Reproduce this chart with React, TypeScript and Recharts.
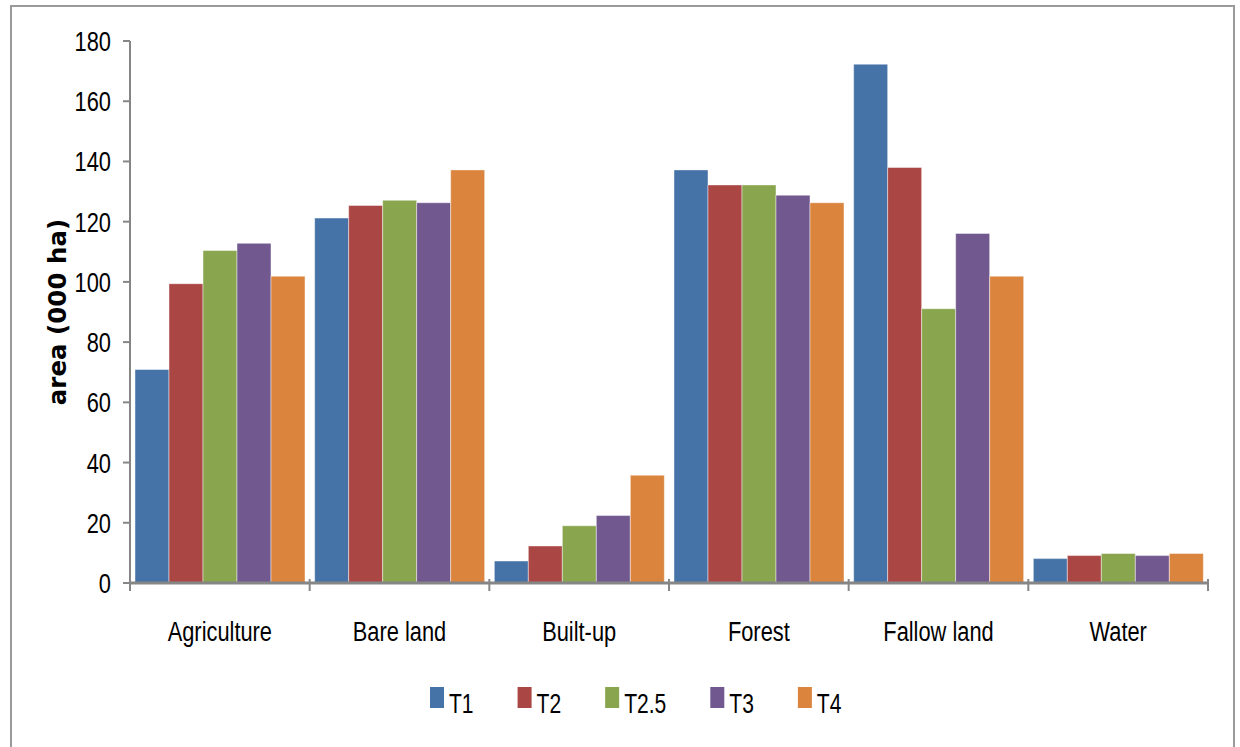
import { Bar, BarChart, Legend, XAxis, YAxis } from "recharts";

const categories = ["Agriculture", "Bare land", "Built-up", "Forest", "Fallow land", "Water"];
const t1 = [70.9, 121.2, 7.3, 137.2, 172.3, 8.1];
const t2 = [99.4, 125.4, 12.3, 132.2, 138.0, 9.1];
const t25 = [110.4, 127.1, 19.0, 132.2, 91.1, 9.8];
const t3 = [112.8, 126.3, 22.4, 128.8, 116.1, 9.1];
const t4 = [101.9, 137.2, 35.8, 126.3, 101.9, 9.8];
const yTicks = [0, 20, 40, 60, 80, 100, 120, 140, 160, 180];

const series = [
  { key: "T1", color: "#4572A7" },
  { key: "T2", color: "#AA4643" },
  { key: "T2.5", color: "#89A54E" },
  { key: "T3", color: "#71588F" },
  { key: "T4", color: "#DB843D" },
];

const chartData = categories.map((name, i) => ({
  name,
  T1: t1[i],
  T2: t2[i],
  "T2.5": t25[i],
  T3: t3[i],
  T4: t4[i],
}));

// Calibri-ish look: Liberation Sans squeezed horizontally
const FONT = "'Liberation Sans', Arial, sans-serif";
const SQUEEZE = 0.78;
const AXIS = "#868686";
const BAND = (1208 - 130) / categories.length;

function NarrowText({ x, y, anchor, size, children }: any) {
  return (
    <text
      transform={`translate(${x},${y}) scale(${SQUEEZE},1)`}
      textAnchor={anchor}
      fontFamily={FONT}
      fontSize={size}
      fill="#000"
    >
      {children}
    </text>
  );
}

function CategoryTick(props: any) {
  const { x, y, payload, index } = props;
  const left = x - BAND / 2;
  const right = x + BAND / 2;
  return (
    <g>
      <line x1={left} y1={y - 12} x2={left} y2={y} stroke={AXIS} strokeWidth={2} />
      {index === categories.length - 1 && (
        <line x1={right} y1={y - 12} x2={right} y2={y} stroke={AXIS} strokeWidth={2} />
      )}
      <NarrowText x={x} y={y + 50} anchor="middle" size={28}>
        {payload.value}
      </NarrowText>
    </g>
  );
}

function ValueTick(props: any) {
  const { x, y, payload } = props;
  return (
    <NarrowText x={x} y={y + 10} anchor="end" size={28}>
      {payload.value}
    </NarrowText>
  );
}

// rough Arial advance widths, used to space the legend entries
function textWidth(s: string, size: number) {
  let w = 0;
  for (const ch of s) w += ch === "T" ? 0.611 : ch === "." ? 0.278 : 0.556;
  return w * size * SQUEEZE;
}

function LegendContent() {
  let cursor = 0;
  const items = series.map((s) => {
    const x = cursor;
    cursor += 14 + 5 + textWidth(s.key, 27) + 44;
    return { ...s, x };
  });
  return (
    <svg width={480} height={36}>
      {items.map((it) => (
        <g key={it.key}>
          <rect x={it.x} y={4} width={14} height={21} fill={it.color} />
          <NarrowText x={it.x + 19} y={30} anchor="start" size={27}>
            {it.key}
          </NarrowText>
        </g>
      ))}
    </svg>
  );
}

export default function App() {
  return (
    <div
      style={{
        position: "absolute",
        left: 0,
        top: 0,
        width: 1240,
        height: 747,
        overflow: "hidden",
        background: "#fff",
      }}
    >
      <div
        style={{
          position: "absolute",
          left: 10,
          top: 5,
          width: 1221,
          height: 780,
          border: "2px solid #9a9a9a",
        }}
      />
      <div style={{ position: "absolute", left: 0, top: 0 }}>
        <BarChart
          width={1240}
          height={747}
          data={chartData}
          margin={{ top: 41, right: 32, left: 70, bottom: 104 }}
          barCategoryGap={5}
          barGap={0}
        >
          <XAxis
            dataKey="name"
            height={60}
            axisLine={{ stroke: AXIS, strokeWidth: 3 }}
            tickLine={false}
            interval={0}
            tick={<CategoryTick />}
          />
          <YAxis
            width={60}
            domain={[0, 180]}
            ticks={yTicks}
            interval={0}
            axisLine={{ stroke: AXIS, strokeWidth: 2 }}
            tickLine={{ stroke: AXIS, strokeWidth: 2 }}
            tickSize={7}
            tickMargin={12}
            tick={<ValueTick />}
            label={{
              content: (p: any) => {
                const vb = p.viewBox;
                const cx = 57;
                const cy = vb.y + vb.height / 2;
                return (
                  <text
                    x={cx}
                    y={cy}
                    transform={`rotate(-90, ${cx}, ${cy})`}
                    textAnchor="middle"
                    dominantBaseline="central"
                    fontFamily="'DejaVu Sans', sans-serif"
                    fontWeight="bold"
                    fontSize={24.5}
                    fill="#000"
                  >
                    area (000 ha)
                  </text>
                );
              },
            }}
          />
          <Legend
            verticalAlign="middle"
            align="center"
            layout="horizontal"
            wrapperStyle={{ top: 683, left: 430, width: 480 }}
            content={<LegendContent />}
          />
          {series.map((s) => (
            <Bar
              key={s.key}
              dataKey={s.key}
              fill={s.color}
              stroke="#ffffff"
              strokeOpacity={0.45}
              strokeWidth={1}
              isAnimationActive={false}
            />
          ))}
        </BarChart>
      </div>
    </div>
  );
}
